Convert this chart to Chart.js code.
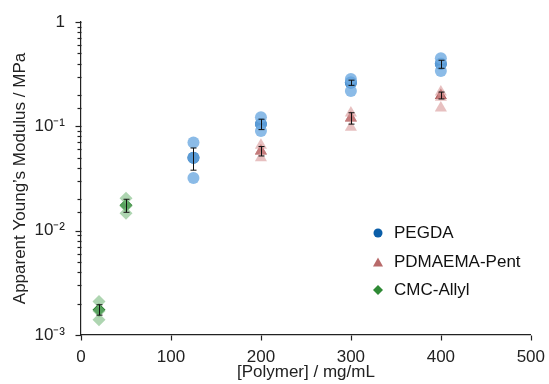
<!DOCTYPE html>
<html>
<head>
<meta charset="utf-8">
<script src="https://cdn.jsdelivr.net/npm/chart.js@4/dist/chart.umd.min.js"></script>
<style>
  body { margin: 0; background: #fff; }
  #wrap { position: relative; width: 549px; height: 384px; }
  #legend { position: absolute; left: 372px; top: 219px; font: 17px "Liberation Sans", Arial, sans-serif; color: #111; }
  #legend div { height: 28.5px; display: flex; align-items: center; }
  #legend svg { margin-right: 10px; }
</style>
</head>
<body>
<div id="wrap">
  <canvas id="chart" width="549" height="384"></canvas>
  <div id="legend">
    <div><svg width="12" height="12"><circle cx="6" cy="6" r="4.5" fill="#0a5ea8"/></svg>PEGDA</div>
    <div><svg width="12" height="12"><polygon points="6,1.5 11,10.5 1,10.5" fill="#b86a6a"/></svg>PDMAEMA-Pent</div>
    <div><svg width="12" height="12"><polygon points="6,1 11,6 6,11 1,6" fill="#2f8a35"/></svg>CMC-Allyl</div>
  </div>
</div>
<script>
// 농도 (mg/mL)
const pegdaX = [125, 200, 300, 400];
const pegdaReps = [[0.070, 0.050, 0.032], [0.122, 0.105, 0.090], [0.285, 0.265, 0.218], [0.45, 0.40, 0.34]];
const pegdaMean = [0.050, 0.105, 0.262, 0.395];
const pegdaErr = [0.012, 0.012, 0.015, 0.035];

const pdmaX = [200, 300, 400];
const pdmaReps = [[0.066, 0.058, 0.050], [0.134, 0.120, 0.098], [0.213, 0.190, 0.150]];
const pdmaMean = [0.058, 0.120, 0.198];
const pdmaErr = [0.006, 0.015, 0.015];

const cmcX = [20, 50];
const cmcReps = [[0.0021, 0.0017, 0.0014], [0.0205, 0.0172, 0.0147]];
const cmcMean = [0.00175, 0.0175];
const cmcErr = [0.0002, 0.0025];

const xTicks = [0, 100, 200, 300, 400, 500];
const yMajor = { 1: '1', 0.1: '10⁻¹', 0.01: '10⁻²', 0.001: '10⁻³' };

const FONT = '"Liberation Sans", Arial, sans-serif';

function repPoints(xs, reps) {
  const pts = [];
  xs.forEach((x, i) => reps[i].forEach((y) => pts.push({ x, y })));
  return pts;
}
function meanPoints(xs, means, errs) {
  return xs.map((x, i) => ({ x, y: means[i], err: errs[i] }));
}

const series = [
  { xs: pegdaX, reps: pegdaReps, mean: pegdaMean, err: pegdaErr, style: 'circle', r: 6, light: 'rgba(110,170,225,0.8)', dark: '#0a5ea8' },
  { xs: pdmaX, reps: pdmaReps, mean: pdmaMean, err: pdmaErr, style: 'triangle', r: 7, light: 'rgba(215,150,150,0.6)', dark: '#a85454' },
  { xs: cmcX, reps: cmcReps, mean: cmcMean, err: cmcErr, style: 'rectRot', r: 6.5, light: 'rgba(120,185,125,0.6)', dark: '#2a8030' },
];

const datasets = [];
series.forEach((s) => {
  datasets.push({
    data: repPoints(s.xs, s.reps),
    pointStyle: s.style, pointRadius: s.r,
    backgroundColor: s.light, borderColor: s.light, borderWidth: 0,
  });
});
series.forEach((s) => {
  datasets.push({
    data: meanPoints(s.xs, s.mean, s.err),
    pointStyle: s.style, pointRadius: s.r,
    backgroundColor: s.dark, borderColor: s.dark, borderWidth: 0,
    errorBars: true,
  });
});

// 에러바 + 로그축 보조눈금
const extras = {
  id: 'extras',
  afterDatasetsDraw(chart) {
    const ctx = chart.ctx;
    const xs = chart.scales.x, ys = chart.scales.y;
    ctx.save();
    ctx.strokeStyle = '#111';
    ctx.lineWidth = 1;
    chart.data.datasets.forEach((ds) => {
      if (!ds.errorBars) return;
      ds.data.forEach((p) => {
        const px = Math.round(xs.getPixelForValue(p.x)) + 0.5;
        const top = ys.getPixelForValue(p.y + p.err);
        const bot = ys.getPixelForValue(p.y - p.err);
        ctx.beginPath();
        ctx.moveTo(px, top); ctx.lineTo(px, bot);
        ctx.moveTo(px - 3, top); ctx.lineTo(px + 3, top);
        ctx.moveTo(px - 3, bot); ctx.lineTo(px + 3, bot);
        ctx.stroke();
      });
    });
    ctx.restore();
  },
  afterDraw(chart) {
    const ctx = chart.ctx;
    const ys = chart.scales.y, xs = chart.scales.x;
    const left = Math.round(ys.right) + 0.5;
    const bottom = Math.round(xs.top) + 0.5;
    ctx.save();
    ctx.strokeStyle = '#222';
    ctx.lineWidth = 1.2;
    ys.ticks.forEach((t) => {
      const py = Math.round(ys.getPixelForValue(t.value)) + 0.5;
      const len = yMajor[t.value] ? 6 : 4;
      ctx.beginPath();
      ctx.moveTo(left - len, py); ctx.lineTo(left, py);
      ctx.stroke();
    });
    xs.ticks.forEach((t) => {
      const px = Math.round(xs.getPixelForValue(t.value)) + 0.5;
      ctx.beginPath();
      ctx.moveTo(px, bottom); ctx.lineTo(px, bottom + 5);
      ctx.stroke();
    });
    ctx.restore();
  },
};

new Chart(document.getElementById('chart'), {
  type: 'scatter',
  data: { datasets },
  options: {
    responsive: false,
    animation: false,
    layout: { padding: { left: 0, right: 18, top: 22, bottom: 0 } },
    plugins: { legend: { display: false }, tooltip: { enabled: false } },
    scales: {
      x: {
        type: 'linear', min: 0, max: 500,
        afterBuildTicks: (scale) => { scale.ticks = xTicks.map((v) => ({ value: v })); },
        afterFit: (scale) => { scale.height = 49; },
        border: { display: true, color: '#222', width: 1.2 },
        grid: { display: false },
        ticks: { font: { family: FONT, size: 17 }, color: '#222', padding: 4, maxRotation: 0 },
        title: { display: true, text: '[Polymer] / mg/mL', font: { family: FONT, size: 17 }, color: '#222', padding: { top: 0, bottom: 1 } },
      },
      y: {
        type: 'logarithmic', min: 0.001, max: 1,
        afterFit: (scale) => { scale.width = 81; },
        border: { display: true, color: '#222', width: 1.2 },
        grid: { display: false },
        ticks: {
          font: { family: FONT, size: 17 }, color: '#222', padding: 8, autoSkip: false,
          callback: (v) => yMajor[v] || '',
        },
        title: { display: true, text: 'Apparent Young\u2019s Modulus / MPa', font: { family: FONT, size: 17 }, color: '#222', padding: { top: 10, bottom: 0 } },
      },
    },
  },
  plugins: [extras],
});
</script>
</body>
</html>
